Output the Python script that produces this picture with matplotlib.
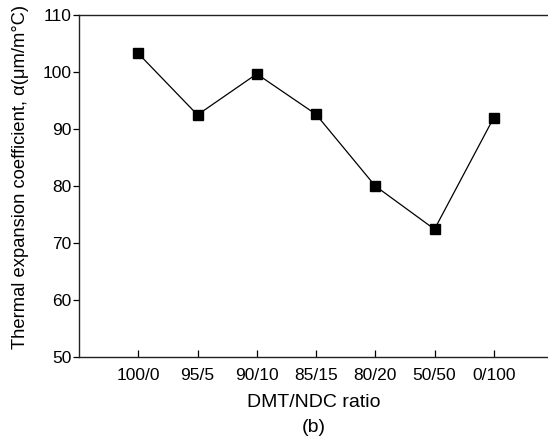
import matplotlib
matplotlib.use('Agg')
import matplotlib.pyplot as plt

plt.rcParams['font.family'] = ['Liberation Sans', 'DejaVu Sans']

# data
ratios = ['100/0', '95/5', '90/10', '85/15', '80/20', '50/50', '0/100']
alpha = [103.3, 92.5, 99.7, 92.6, 80.0, 72.4, 92.0]
y_ticks = [50, 60, 70, 80, 90, 100, 110]

fig = plt.figure(figsize=(5.48, 4.45), dpi=100)
# axes run a little past the right edge, like the source
ax = fig.add_axes([79 / 548, 1 - 356.7 / 445, 474 / 548, 341.4 / 445])

x = list(range(1, len(ratios) + 1))
ax.plot(x, alpha, color='black', lw=0.9, marker='s', ms=6.5,
        mfc='black', mec='black')

ax.set_xlim(0, 8)
ax.set_ylim(50, 110)
ax.set_xticks(x)
ax.set_xticklabels(ratios)
ax.set_yticks(y_ticks)

ax.tick_params(axis='x', direction='in', length=5, width=0.9, labelsize=12.5, pad=8)
ax.tick_params(axis='y', direction='out', length=4, width=0.9, labelsize=12.5, pad=1.5)
for s in ax.spines.values():
    s.set_linewidth(1.0)
    s.set_color('#222222')

fig.text(21 / 548, 1 - 176.5 / 445, 'Thermal expansion coefficient, \u03b1(\u03bcm/m\u00b0C)',
         fontsize=13.2, rotation=90, ha='center', va='center')
fig.text(314 / 548, 1 - 407 / 445, 'DMT/NDC ratio', fontsize=14, ha='center', va='baseline')
fig.text(314 / 548, 1 - 432 / 445, '(b)', fontsize=14, ha='center', va='baseline')

fig.savefig('out.png', dpi=100)
